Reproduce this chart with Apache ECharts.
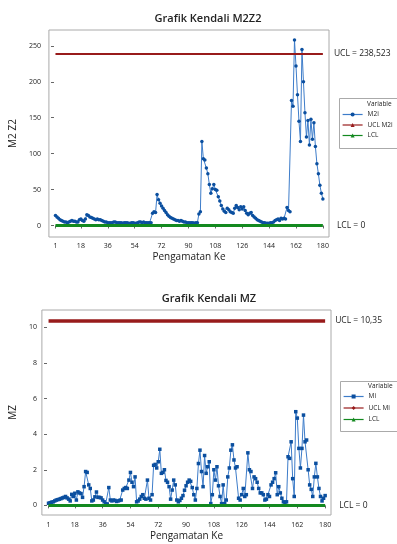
<!DOCTYPE html>
<html>
<head>
<meta charset="utf-8">
<script src="https://cdn.jsdelivr.net/npm/echarts@6/dist/echarts.min.js"></script>
<style>
  html, body { margin: 0; padding: 0; background: #fff; }
  #chart { width: 397px; height: 544px; }
</style>
</head>
<body>
<div id="chart"></div>
<script>
// observation numbers 1..180
const obs = Array.from({ length: 180 }, (_, i) => i + 1);
const xTicks = [1, 18, 36, 54, 72, 90, 108, 126, 144, 162, 180];
const yTicksTop = [0, 50, 100, 150, 200, 250];
const yTicksBottom = [0, 2, 4, 6, 8, 10];

const uclTop = 238.523;
const uclBottom = 10.35;
const lcl = 0;

// M2Z2 statistic
const m2z2 = [
  14, 12, 10, 8, 7, 6, 5, 5, 4, 5,
  6, 7, 6, 6, 5, 5, 8, 9, 7, 6,
  9, 15, 14, 12, 11, 10, 9, 8, 9, 8,
  8, 7, 6, 5, 5, 4, 4, 4, 4, 5,
  5, 4, 4, 4, 4, 3, 4, 4, 4, 3,
  3, 4, 4, 3, 3, 4, 5, 5, 4, 5,
  4, 4, 4, 4, 4, 17, 19, 18, 43, 36,
  31, 27, 24, 21, 18, 15, 13, 11, 10, 9,
  8, 7, 7, 6, 7, 6, 5, 5, 4, 4,
  4, 4, 4, 3, 4, 4, 16, 19, 117, 93,
  91, 80, 72, 57, 45, 51, 57, 50, 49, 40,
  34, 28, 23, 20, 18, 24, 22, 19, 18, 17,
  24, 28, 25, 22, 26, 23, 26, 21, 17, 15,
  17, 18, 14, 12, 10, 8, 7, 6, 5, 4,
  4, 3, 3, 3, 4, 4, 5, 7, 8, 9,
  7, 10, 9, 10, 9, 25, 21, 19, 174, 166,
  258, 222, 182, 145, 117, 245, 200, 157, 123, 146,
  112, 148, 120, 143, 110, 86, 72, 56, 45, 37
];

// MZ statistic
const mz = [
  0.12, 0.15, 0.18, 0.2, 0.25, 0.3, 0.32, 0.35, 0.38, 0.42,
  0.45, 0.5, 0.42, 0.35, 0.25, 0.62, 0.5, 0.68, 0.3, 0.76,
  0.7, 0.66, 0.45, 1.05, 1.9, 1.85, 1.15, 0.95, 0.25, 0.3,
  0.48, 0.75, 0.45, 0.45, 0.42, 0.3, 0.2, 0.1, 0.08, 1.0,
  0.3, 0.25, 0.3, 0.28, 0.22, 0.25, 0.28, 0.3, 0.86, 0.95,
  1.0, 0.95, 1.42, 1.85, 1.3, 1.05, 1.6, 0.2, 0.25, 0.35,
  0.5, 0.6, 0.4, 0.35, 1.42, 0.4, 0.3, 0.6, 2.25, 2.3,
  2.1, 2.45, 3.15, 1.8, 1.85, 2.0, 1.4, 1.3, 1.05, 0.35,
  0.86, 1.42, 1.15, 0.3, 0.2, 0.28, 0.4, 0.55, 0.85, 1.1,
  1.3, 1.42, 1.35, 1.0, 0.6, 0.3, 0.95, 2.35, 3.1, 1.9,
  1.05, 2.8, 1.8, 2.17, 2.45, 0.1, 0.6, 2.0, 1.42, 2.17,
  1.1, 0.5, 0.1, 1.15, 0.1, 0.3, 1.6, 2.1, 3.1, 3.4,
  2.55, 2.1, 2.17, 0.4, 0.3, 0.6, 0.95, 0.5, 0.6, 2.95,
  2.0, 1.9, 0.95, 1.6, 1.5, 1.3, 0.95, 0.7, 0.7, 0.6,
  0.3, 0.35, 0.6, 0.5, 1.15, 1.3, 1.5, 1.83, 0.6, 1.05,
  0.7, 0.4, 0.2, 0.15, 0.2, 2.73, 2.64, 3.57, 1.5, 0.5,
  5.26, 4.9, 3.2, 2.1, 3.2, 5.07, 3.57, 3.67, 2.0, 1.15,
  0.9, 0.5, 1.6, 2.36, 1.6, 0.95, 0.5, 0.25, 0.4, 0.55
];

const FONT = '"Open Sans", "Noto Sans", sans-serif';
const BLUE_LINE = '#3d7cc9';
const BLUE_MARK = '#0b4f9f';
const RED = '#981b1b';
const GREEN = '#13891f';

const chart = echarts.init(document.getElementById('chart'), null, { renderer: 'canvas' });

function xAxisFor(gridIndex, min, max, gap, margin) {
  return {
    type: 'value', gridIndex, min, max,
    name: 'Pengamatan Ke', nameLocation: 'middle', nameGap: gap,
    nameTextStyle: { fontFamily: FONT, fontSize: 10, color: '#222' },
    axisLine: { show: false },
    axisTick: { show: true, length: 3, lineStyle: { color: '#666' }, customValues: xTicks },
    axisLabel: { fontFamily: FONT, fontSize: 7, color: '#222', margin, customValues: xTicks },
    splitLine: { show: false }
  };
}

function yAxisFor(gridIndex, name, min, max, ticks, gap, margin) {
  return {
    type: 'value', gridIndex, min, max,
    name, nameLocation: 'middle', nameGap: gap, nameRotate: 90,
    nameTextStyle: { fontFamily: FONT, fontSize: 10, color: '#222' },
    axisLine: { show: false },
    axisTick: { show: true, length: 3, lineStyle: { color: '#666' }, customValues: ticks },
    axisLabel: { fontFamily: FONT, fontSize: 7, color: '#222', margin, customValues: ticks },
    splitLine: { show: false }
  };
}

function limitSeries(name, xi, value, color, width, symbol, label, dist) {
  return {
    name, type: 'line', xAxisIndex: xi, yAxisIndex: xi,
    data: obs.map(x => [x, value]),
    symbol, symbolSize: 4, showSymbol: false,
    lineStyle: { color, width },
    itemStyle: { color },
    endLabel: {
      show: true, formatter: label, distance: dist,
      fontFamily: FONT, fontSize: 8.5, color: '#222'
    },
    silent: true, z: 3
  };
}

const legendBase = {
  orient: 'vertical', itemWidth: 20, itemHeight: 5, padding: 0,
  lineStyle: { width: 1.2 },
  textStyle: { fontFamily: FONT, fontSize: 6.5, color: '#222' }
};

const option = {
  animation: false,
  title: [
    { text: 'Grafik Kendali M2Z2', left: 203, top: 8, textAlign: 'center',
      textStyle: { fontFamily: FONT, fontSize: 11, fontWeight: 600, color: '#222' } },
    { text: 'Grafik Kendali MZ', left: 204, top: 288, textAlign: 'center',
      textStyle: { fontFamily: FONT, fontSize: 11, fontWeight: 600, color: '#222' } }
  ],
  grid: [
    { left: 43, top: 30, width: 286, height: 207, show: true, borderColor: '#aaa', borderWidth: 1 },
    { left: 38, top: 310, width: 293, height: 205, show: true, borderColor: '#aaa', borderWidth: 1 }
  ],
  xAxis: [
    xAxisFor(0, -3.4, 184.1, 15, 5),
    xAxisFor(1, -3.3, 183.8, 16, 6)
  ],
  yAxis: [
    yAxisFor(0, 'M2 Z2', -16, 272, yTicksTop, 22, 8),
    yAxisFor(1, 'MZ', -0.54, 10.97, yTicksBottom, 15, 5)
  ],
  legend: [
    Object.assign({}, legendBase, { left: 342, top: 111, itemGap: 3.5, data: ['M2i', 'UCL M2i', 'LCL'] }),
    Object.assign({}, legendBase, { left: 343, top: 393, itemGap: 4.5, data: ['Mi', 'UCL Mi', 'LCL '] })
  ],
  graphic: [
    { type: 'rect', shape: { x: 339.5, y: 98.5, width: 70, height: 50 },
      style: { fill: '#fff', stroke: '#aaa', lineWidth: 1 }, z: 0 },
    { type: 'text', x: 367, y: 101, style: { text: 'Variable', fontFamily: FONT, fontSize: 6.5, fill: '#222' } },
    { type: 'rect', shape: { x: 340.5, y: 381.5, width: 70, height: 50 },
      style: { fill: '#fff', stroke: '#aaa', lineWidth: 1 }, z: 0 },
    { type: 'text', x: 368, y: 383, style: { text: 'Variable', fontFamily: FONT, fontSize: 6.5, fill: '#222' } }
  ],
  series: [
    {
      name: 'M2i', type: 'line', xAxisIndex: 0, yAxisIndex: 0,
      data: obs.map((x, i) => [x, m2z2[i]]),
      symbol: 'circle', symbolSize: 3.5,
      lineStyle: { color: BLUE_LINE, width: 1 },
      itemStyle: { color: BLUE_MARK },
      z: 2
    },
    limitSeries('UCL M2i', 0, uclTop, RED, 2, 'triangle', 'UCL = 238,523', 11),
    limitSeries('LCL', 0, lcl, GREEN, 3, 'triangle', 'LCL = 0', 14),
    {
      name: 'Mi', type: 'line', xAxisIndex: 1, yAxisIndex: 1,
      data: obs.map((x, i) => [x, mz[i]]),
      symbol: 'rect', symbolSize: 3.5,
      lineStyle: { color: BLUE_LINE, width: 1 },
      itemStyle: { color: BLUE_MARK },
      z: 2
    },
    limitSeries('UCL Mi', 1, uclBottom, RED, 3.5, 'diamond', 'UCL = 10,35', 10),
    limitSeries('LCL ', 1, lcl, GREEN, 3, 'triangle', 'LCL = 0', 14)
  ]
};

chart.setOption(option);
</script>
</body>
</html>
